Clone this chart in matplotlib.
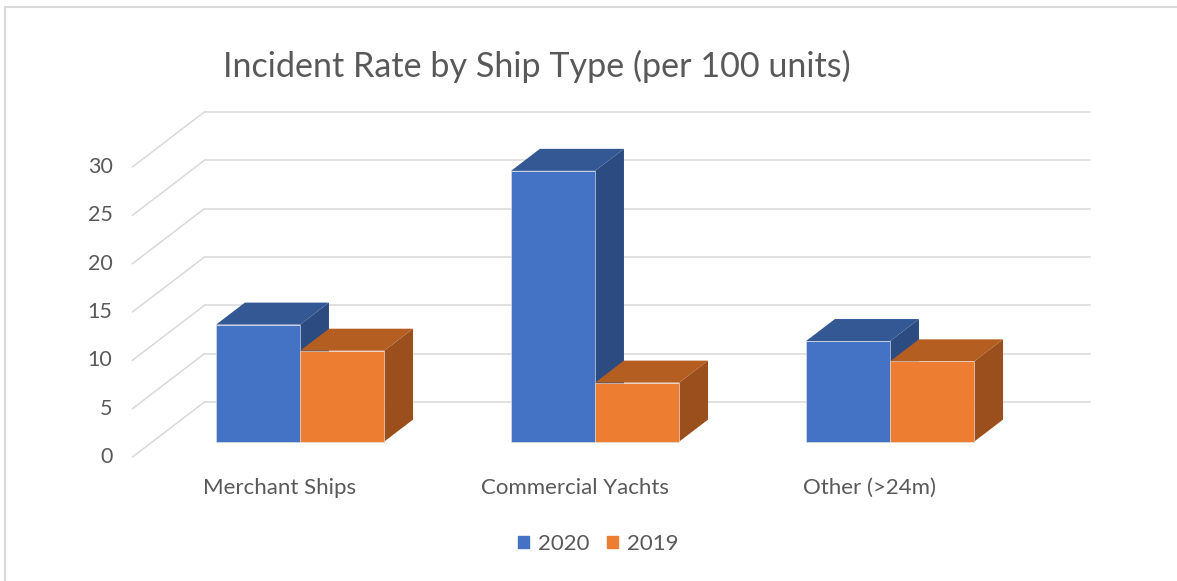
import numpy as np
import matplotlib.pyplot as plt
from matplotlib.patches import Polygon, Rectangle, Patch

plt.rcParams['font.family'] = ['Lato', 'DejaVu Sans']

categories = ['Merchant Ships', 'Commercial Yachts', 'Other (>24m)']
series = ['2020', '2019']
rate_2020 = [12.1, 28.0, 10.4]
rate_2019 = [9.4, 6.1, 8.3]
yticks = [0, 5, 10, 15, 20, 25, 30]

front_cols = ['#4472C4', '#ED7D31']
top_cols = ['#335893', '#B55E22']
side_cols = ['#2B4B81', '#9A4F1C']
grid_col = '#D9D9D9'
text_col = '#595959'

# oblique projection: back-wall plane coords, depth vector back->front
W, H = 1177, 581
px_cat, x0 = 295.0, 352.0      # pixels per category, back centre of 1st category
px_val, y0 = 9.67, 402.0       # pixels per unit, back floor
DX, DY = -72.0 / px_cat, -55.0 / px_val
bar_front, bar_back = 0.72, 0.32   # depth fractions (from back) of bar faces
bar_w = 0.285

fig = plt.figure(figsize=(W / 100, H / 100), dpi=100)
ax = fig.add_axes([0, 0, 1, 1])
ax.set_xlim(-x0 / px_cat, (W - x0) / px_cat)
ax.set_ylim((y0 - H) / px_val, y0 / px_val)
ax.axis('off')

n = len(categories)
left, right = -0.5, n - 0.5
for v in yticks:
    ax.plot([left, right], [v, v], color=grid_col, lw=1.1, zorder=1)
    ax.plot([left + DX, left], [v + DY, v], color=grid_col, lw=1.1, zorder=1)
    ax.text(left + DX - 20 / px_cat, v + DY, str(v), ha='right', va='center',
            fontsize=15.5, color=text_col)


def draw_bar(c0, c1, val, k):
    fx, fy = bar_front * DX, bar_front * DY
    bx, by = bar_back * DX, bar_back * DY
    side = [(c1 + fx, fy), (c1 + bx, by), (c1 + bx, val + by), (c1 + fx, val + fy)]
    top = [(c0 + fx, val + fy), (c1 + fx, val + fy), (c1 + bx, val + by), (c0 + bx, val + by)]
    front = [(c0 + fx, fy), (c1 + fx, fy), (c1 + fx, val + fy), (c0 + fx, val + fy)]
    ax.add_patch(Polygon(side, closed=True, fc=side_cols[k], ec='none', zorder=2))
    ax.add_patch(Polygon(top, closed=True, fc=top_cols[k], ec='none', zorder=2))
    ax.add_patch(Polygon(front, closed=True, fc=front_cols[k], ec='#E6E6E6', lw=0.4, zorder=2))


for i in range(n):
    draw_bar(i - bar_w, i, rate_2020[i], 0)
    draw_bar(i, i + bar_w, rate_2019[i], 1)
    ax.text(i + DX, (y0 - 488) / px_val, categories[i], ha='center', va='center',
            fontsize=16, color=text_col)

fig.text(537 / W, 1 - 66 / H, 'Incident Rate by Ship Type (per 100 units)',
         ha='center', va='center', fontsize=24.6, color=text_col)

handles = [Patch(color=front_cols[0]), Patch(color=front_cols[1])]
fig.legend(handles, series, loc='center', bbox_to_anchor=(598 / W, 1 - 544 / H),
           ncol=2, frameon=False, fontsize=16, labelcolor=text_col,
           handlelength=0.5, handleheight=0.5, handletextpad=0.4, columnspacing=0.8)

fig.patches.append(Rectangle((4.5 / W, -0.1), 1.2, 1 - 6.5 / H + 0.1,
                             transform=fig.transFigure, fill=False,
                             ec=grid_col, lw=1.5))

fig.savefig('out.png', dpi=100)
